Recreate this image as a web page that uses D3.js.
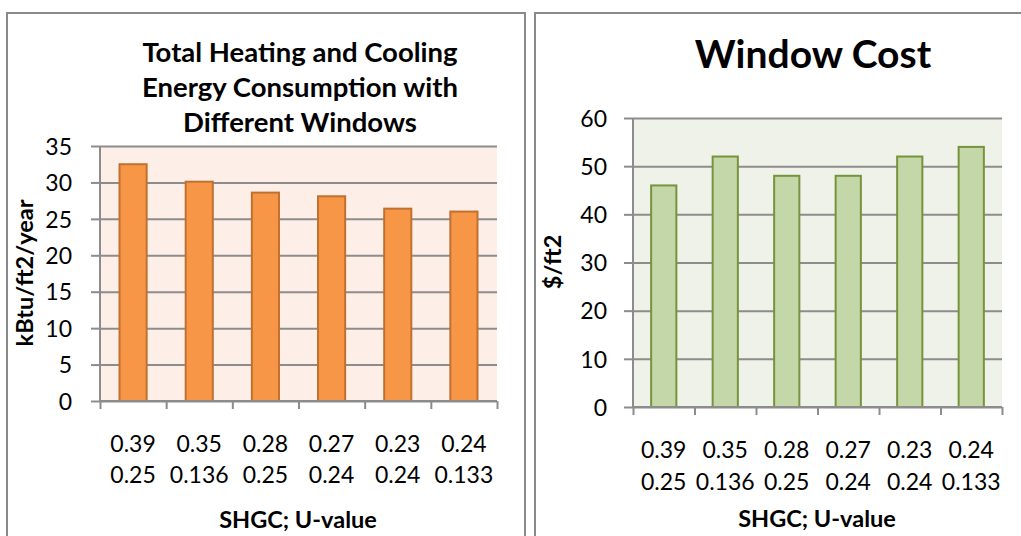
<!DOCTYPE html>
<html>
<head>
<meta charset="utf-8">
<script src="https://cdn.jsdelivr.net/npm/d3@7"></script>
<style>
  html, body { margin: 0; padding: 0; background: #ffffff; }
  svg { display: block; }
  text { font-family: Lato, "Open Sans", sans-serif; fill: #000; }
</style>
</head>
<body>
<script>
// Window options: solar heat gain coefficient and U-value
const shgc = ["0.39", "0.35", "0.28", "0.27", "0.23", "0.24"];
const uValue = ["0.25", "0.136", "0.25", "0.24", "0.24", "0.133"];

// Total heating + cooling energy use, kBtu/ft2/year
const energyValues = [32.5, 30.1, 28.6, 28.1, 26.4, 26.0];
const energyTicks = [0, 5, 10, 15, 20, 25, 30, 35];

// Window cost, $/ft2
const costValues = [46, 52, 48, 48, 52, 54];
const costTicks = [0, 10, 20, 30, 40, 50, 60];

const W = 1021, H = 536;
const svg = d3.select("body").append("svg").attr("width", W).attr("height", H);

function drawChart(cfg) {
  const g = svg.append("g");

  // panel frame
  g.append("rect")
    .attr("x", cfg.frame[0]).attr("y", cfg.frame[1])
    .attr("width", cfg.frame[2]).attr("height", cfg.frame[3])
    .attr("fill", "#fff").attr("stroke", "#8a8a8a").attr("stroke-width", 2);

  const [x0, x1] = cfg.xRange;
  const [yTop, yBot] = cfg.yRange;
  const n = shgc.length;

  const y = d3.scaleLinear().domain([0, d3.max(cfg.ticks)]).range([yBot, yTop]);
  const xBand = d3.scaleBand().domain(d3.range(n)).range([x0, x1])
    .paddingInner(0.59).paddingOuter(0.295);
  const xIdx = d3.scaleLinear().domain([0, n]).range([x0, x1]);

  // plot background
  g.append("rect").attr("x", x0).attr("y", yTop)
    .attr("width", x1 - x0).attr("height", yBot - yTop)
    .attr("fill", cfg.plotBg);

  // gridlines
  const grid = g.append("g").attr("transform", `translate(${x0},0)`)
    .call(d3.axisLeft(y).tickValues(cfg.ticks).tickSize(x0 - x1).tickFormat(""));
  grid.selectAll(".tick line").attr("stroke", "#8c8c8c").attr("stroke-width", 2);
  grid.select(".domain").remove();

  // y axis with outward ticks and labels
  const yAxis = g.append("g").attr("transform", `translate(${x0},0)`)
    .call(d3.axisLeft(y).tickValues(cfg.ticks).tickSize(9).tickPadding(cfg.yLabelPad));
  yAxis.select(".domain").attr("stroke", "#8c8c8c").attr("stroke-width", 2)
    .attr("d", `M0,${yTop}V${yBot}`);
  yAxis.selectAll(".tick line").attr("stroke", "#8c8c8c").attr("stroke-width", 2);
  yAxis.selectAll(".tick text")
    .style("font-family", "Lato, sans-serif").style("font-size", cfg.tickFont + "px")
    .attr("fill", "#000").attr("dy", "0.36em");

  // bars
  g.append("g").selectAll("rect").data(cfg.values).join("rect")
    .attr("x", (d, i) => xBand(i))
    .attr("y", d => y(d))
    .attr("width", xBand.bandwidth())
    .attr("height", d => y(0) - y(d))
    .attr("fill", cfg.barFill)
    .attr("stroke", cfg.barStroke)
    .attr("stroke-width", 2);

  // x axis with category boundary ticks
  const xAxis = g.append("g").attr("transform", `translate(0,${yBot})`)
    .call(d3.axisBottom(xIdx).tickValues(d3.range(n + 1)).tickSize(8).tickFormat(""));
  xAxis.select(".domain").attr("stroke", "#8c8c8c").attr("stroke-width", 2)
    .attr("d", `M${x0},0H${x1}`);
  xAxis.selectAll(".tick line").attr("stroke", "#8c8c8c").attr("stroke-width", 2);

  // two-line category labels
  const catG = g.append("g");
  shgc.forEach((s, i) => {
    const cx = xIdx(i + 0.5);
    const t = catG.append("text").attr("text-anchor", "middle")
      .style("font-size", cfg.tickFont + "px");
    t.append("tspan").attr("x", cx).attr("y", cfg.catY[0]).text(s);
    t.append("tspan").attr("x", cx).attr("y", cfg.catY[1]).text(uValue[i]);
  });

  // x title
  g.append("text").attr("x", cfg.xTitle[0]).attr("y", cfg.xTitle[1])
    .attr("text-anchor", "middle").style("font-weight", "bold")
    .style("font-size", cfg.axisTitleFont + "px").text("SHGC; U-value");

  // y title
  g.append("text")
    .attr("transform", `translate(${cfg.yTitle[0]},${cfg.yTitle[1]}) rotate(-90)`)
    .attr("text-anchor", "middle").style("font-weight", "bold")
    .style("font-size", cfg.axisTitleFont + "px").text(cfg.yLabel);

  // chart title
  const tt = g.append("text").attr("text-anchor", "middle")
    .style("font-weight", "bold").style("font-size", cfg.titleFont + "px");
  cfg.title.forEach((line, i) => {
    tt.append("tspan").attr("x", cfg.titlePos[0])
      .attr("y", cfg.titlePos[1] + i * cfg.titleLead).text(line);
  });
}

drawChart({
  frame: [7, 13, 518, 540],
  xRange: [100, 497], yRange: [146, 401],
  ticks: energyTicks, values: energyValues,
  plotBg: "#fdeee8", barFill: "#f79646", barStroke: "#c0712f",
  yLabelPad: 19, tickFont: 23, axisTitleFont: 23.5, titleFont: 27.5,
  catY: [452, 483], xTitle: [298, 528], yTitle: [33, 273],
  yLabel: "kBtu/ft2/year",
  title: ["Total Heating and Cooling", "Energy Consumption with", "Different Windows"],
  titlePos: [300, 62], titleLead: 35
});

drawChart({
  frame: [535, 13, 500, 540],
  xRange: [633, 1002], yRange: [118, 407],
  ticks: costTicks, values: costValues,
  plotBg: "#eff2e9", barFill: "#c4d7a9", barStroke: "#77933c",
  yLabelPad: 17, tickFont: 23, axisTitleFont: 23.5, titleFont: 39,
  catY: [458, 490], xTitle: [817, 527], yTitle: [561, 262],
  yLabel: "$/ft2",
  title: ["Window Cost"],
  titlePos: [813, 68], titleLead: 0
});
</script>
</body>
</html>
